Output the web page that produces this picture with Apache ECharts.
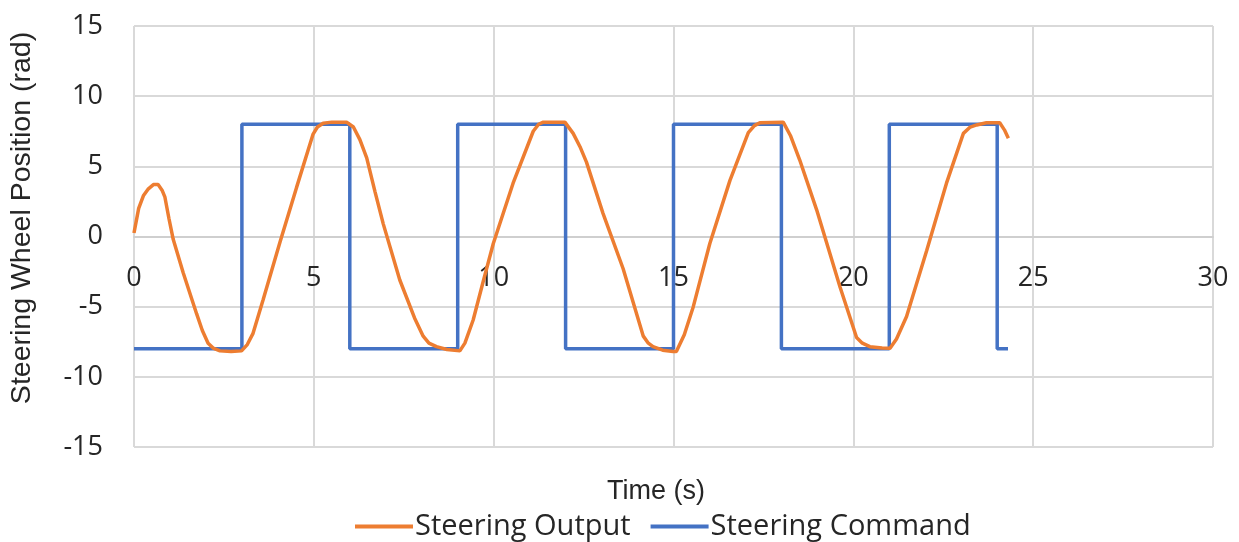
<!DOCTYPE html>
<html><head><meta charset="utf-8">
<script src="https://cdn.jsdelivr.net/npm/echarts@6/dist/echarts.min.js"></script>
<style>html,body{margin:0;padding:0;background:#fff}#c{width:1239px;height:542px}</style>
</head><body><div id="c"></div>
<script>
const outTime = [0,0.13,0.26,0.4,0.54,0.67,0.78,0.86,0.97,1.09,1.37,1.74,1.9,2.06,2.2,2.39,2.7,2.99,3.15,3.31,3.59,4.06,4.52,4.98,5.1,5.26,5.5,5.91,6.1,6.28,6.47,6.7,6.93,7.39,7.8,8.04,8.2,8.41,8.7,9.06,9.2,9.43,9.7,9.99,10.54,11.1,11.25,11.38,11.98,12.21,12.4,12.58,13.04,13.6,14.16,14.3,14.43,14.7,14.99,15.08,15.3,15.55,16.01,16.57,17.08,17.25,17.4,18.05,18.25,18.51,18.98,19.3,19.63,20.09,20.25,20.46,20.8,21.02,21.2,21.48,22.04,22.59,23.06,23.25,23.43,23.7,24.07,24.2,24.31];
const outValue = [0.25,2.0,2.9,3.4,3.7,3.7,3.3,2.8,1.3,-0.2,-2.6,-5.5,-6.7,-7.6,-7.95,-8.15,-8.2,-8.15,-7.7,-6.9,-4.5,-0.4,3.5,7.3,7.8,8.07,8.15,8.15,7.8,6.9,5.6,3.2,0.9,-3.1,-5.8,-7.1,-7.6,-7.85,-8.05,-8.15,-7.6,-5.95,-3.3,-0.5,3.8,7.5,8.0,8.15,8.15,7.35,6.4,5.3,1.65,-2.3,-7.1,-7.6,-7.85,-8.1,-8.2,-8.2,-7.0,-5.0,-0.5,4.0,7.4,7.9,8.1,8.15,7.2,5.45,1.9,-0.8,-3.6,-7.2,-7.6,-7.85,-7.95,-7.97,-7.3,-5.7,-1.0,3.8,7.35,7.8,7.95,8.1,8.1,7.6,7.0];
const cmdTime = [0,3,6,9,12,15,18,21,24,24.3];
const cmdValue = [-8,8,-8,8,-8,8,-8,8,-8,-8];
const seriesNames = ['Steering Output','Steering Command'];
const xTitle = 'Time (s)';
const yTitle = 'Steering Wheel Position (rad)';

const FONT = 'Open Sans';
const TXT = '#262626';
const chart = echarts.init(document.getElementById('c'), null, {renderer:'canvas'});
chart.setOption({
  animation:false,
  textStyle:{fontFamily:FONT},
  grid:{left:134,right:26,top:26,bottom:95,containLabel:false},
  xAxis:{type:'value',min:0,max:30,interval:5,offset:-210.5,
    axisLine:{show:true,onZero:false,lineStyle:{color:'#cfcfcf',width:2}},
    axisTick:{show:false},
    splitLine:{show:true,lineStyle:{color:'#d9d9d9',width:2}},
    axisLabel:{color:TXT,fontSize:27,fontFamily:FONT,margin:28}},
  yAxis:{type:'value',min:-15,max:15,interval:5,
    axisLine:{show:false},axisTick:{show:false},
    splitLine:{show:true,lineStyle:{color:'#d9d9d9',width:2}},
    axisLabel:{color:TXT,fontSize:27,fontFamily:FONT,margin:31}},
  legend:{top:507,left:350,itemGap:20,itemWidth:58,itemHeight:4,icon:'rect',
    textStyle:{color:TXT,fontSize:29,fontFamily:FONT,padding:[0,0,0,-3]},
    data:seriesNames},
  graphic:[
    {type:'text',x:656,y:492,style:{text:xTitle,fill:TXT,font:'27px "Liberation Sans"',textAlign:'center',textVerticalAlign:'middle'}},
    {type:'text',x:22,y:218,rotation:Math.PI/2,style:{text:yTitle,fill:TXT,font:'28.5px "Liberation Sans"',textAlign:'center',textVerticalAlign:'middle'}}
  ],
  series:[
    {name:seriesNames[0],type:'line',showSymbol:false,symbol:'none',
      data:outTime.map((t,i)=>[t,outValue[i]]),
      lineStyle:{color:'#ED7D31',width:3.5},itemStyle:{color:'#ED7D31'},z:3},
    {name:seriesNames[1],type:'line',showSymbol:false,symbol:'none',step:'end',
      data:cmdTime.map((t,i)=>[t,cmdValue[i]]),
      lineStyle:{color:'#4472C4',width:3.5},itemStyle:{color:'#4472C4'},z:2}
  ]
});
</script></body></html>
